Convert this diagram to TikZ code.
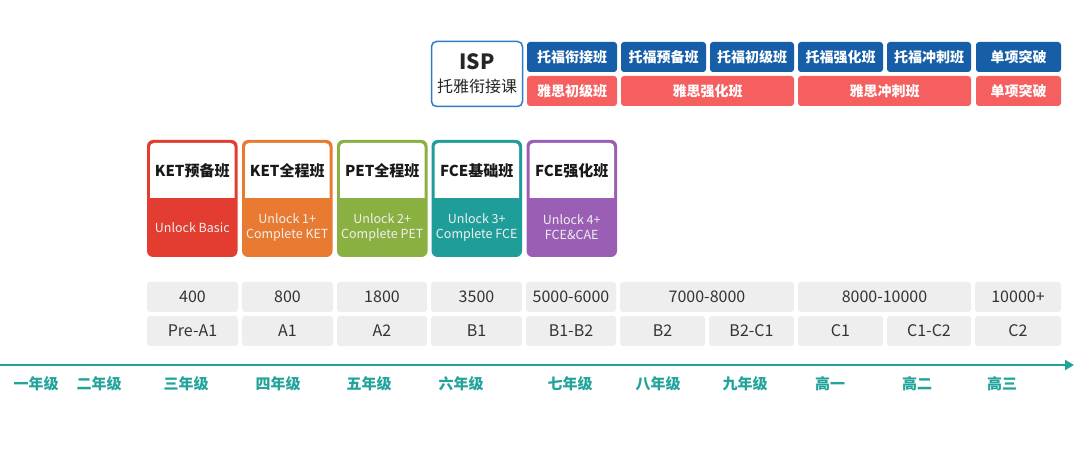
\documentclass[tikz,border=0pt]{standalone}
\usepackage{fontspec}
\setmainfont{Noto Sans CJK SC}
\usetikzlibrary{arrows.meta}
\definecolor{toeflblue}{HTML}{165EA8}
\definecolor{ispblue}{HTML}{2F7CC6}
\definecolor{ieltsred}{HTML}{F65F5F}
\definecolor{ketred}{HTML}{E23D30}
\definecolor{ketorange}{HTML}{E97A31}
\definecolor{petgreen}{HTML}{8AB042}
\definecolor{fceteal}{HTML}{1F9E99}
\definecolor{fcepurple}{HTML}{9A5EB5}
\definecolor{scoregray}{HTML}{EEEEEE}
\definecolor{txtgray}{HTML}{333333}
\definecolor{axisteal}{HTML}{22A39B}

\begin{document}
\begin{tikzpicture}[x=1pt,y=-1pt,
    every node/.style={inner sep=0pt,outer sep=0pt},
    toefl/.style={anchor=north west,fill=toeflblue,rounded corners=3pt,text=white,
      minimum height=30pt,font=\bfseries\fontsize{14}{16}\selectfont},
    ielts/.style={toefl,fill=ieltsred},
    score/.style={anchor=north west,fill=scoregray,rounded corners=3pt,text=txtgray,
      minimum height=30pt,font=\fontsize{16}{18}\selectfont},
    card/.style={anchor=north west,fill=#1,rounded corners=6pt,minimum width=90.5pt,minimum height=117pt},
    cardtitle/.style={text=black!90,font=\bfseries\fontsize{15}{18}\selectfont},
    cardsub/.style={text=white!94!black,align=center,font=\fontsize{12.5}{15}\selectfont},
    grade/.style={text=axisteal,font=\bfseries\fontsize{15}{18}\selectfont}]
  \useasboundingbox[fill=white] (0,0) rectangle (1080,449);

  % ISP and the toefl / ielts rows
  \node[anchor=north west,draw=ispblue,line width=1.5pt,rounded corners=5pt,
    minimum width=91pt,minimum height=65pt] (isp) at (431.5,41.5) {};
  \node[font=\bfseries\fontsize{21}{24}\selectfont,text=black!85] (isptitle) at (477,62) {ISP};
  \node[font=\fontsize{16}{18}\selectfont,text=black!85] (ispsub) at (477,86) {托雅衔接课};

  \node[toefl,minimum width=90pt] (t1) at (527,42) {托福衔接班};
  \node[toefl,minimum width=85pt] (t2) at (621,42) {托福预备班};
  \node[toefl,minimum width=84pt] (t3) at (710,42) {托福初级班};
  \node[toefl,minimum width=85pt] (t4) at (798,42) {托福强化班};
  \node[toefl,minimum width=84pt] (t5) at (887,42) {托福冲刺班};
  \node[toefl,minimum width=85pt] (t6) at (976,42) {单项突破};

  \node[ielts,minimum width=90pt] (i1) at (527,76) {雅思初级班};
  \node[ielts,minimum width=173pt] (i2) at (621,76) {雅思强化班};
  \node[ielts,minimum width=173pt] (i3) at (798,76) {雅思冲刺班};
  \node[ielts,minimum width=85pt] (i4) at (976,76) {单项突破};

  % cambridge cards
  \foreach \x/\c/\t/\s [count=\i] in {147/ketred/KET预备班/Unlock Basic,
      242/ketorange/KET全程班/{Unlock 1+\\Complete KET},
      337/petgreen/PET全程班/{Unlock 2+\\Complete PET},
      431.5/fceteal/FCE基础班/{Unlock 3+\\Complete FCE},
      526.5/fcepurple/FCE强化班/{Unlock 4+\\FCE\&CAE}}{
    \node[card=\c] (card\i) at (\x,140) {};
    \fill[white] (\x+3,198) [rounded corners=4pt] -- (\x+3,143) -- (\x+87.5,143)
      [sharp corners] -- (\x+87.5,198) -- cycle;
    \node[cardtitle] (title\i) at (\x+45.25,170.5) {\t};
    \node[cardsub] (sub\i) at (\x+45.25,227.5) {\s};
  }

  % vocabulary and CEFR levels
  \node[score,minimum width=91pt] (v1) at (147,282) {400};
  \node[score,minimum width=91pt] (v2) at (242,282) {800};
  \node[score,minimum width=90pt] (v3) at (337,282) {1800};
  \node[score,minimum width=91pt] (v4) at (431,282) {3500};
  \node[score,minimum width=90pt] (v5) at (526,282) {5000-6000};
  \node[score,minimum width=174pt] (v6) at (620,282) {7000-8000};
  \node[score,minimum width=173pt] (v7) at (798,282) {8000-10000};
  \node[score,minimum width=86pt] (v8) at (975,282) {10000+};

  \node[score,minimum width=91pt] (l1) at (147,316) {Pre-A1};
  \node[score,minimum width=91pt] (l2) at (242,316) {A1};
  \node[score,minimum width=90pt] (l3) at (337,316) {A2};
  \node[score,minimum width=91pt] (l4) at (431,316) {B1};
  \node[score,minimum width=90pt] (l5) at (526,316) {B1-B2};
  \node[score,minimum width=85pt] (l6) at (620,316) {B2};
  \node[score,minimum width=85pt] (l7) at (709,316) {B2-C1};
  \node[score,minimum width=85pt] (l8) at (798,316) {C1};
  \node[score,minimum width=84pt] (l9) at (887,316) {C1-C2};
  \node[score,minimum width=86pt] (l10) at (975,316) {C2};

  % time line
  \coordinate (start) at (0,365);
  \coordinate (end) at (1074,365);
  \draw[axisteal,line width=2.6pt,-{Triangle[length=9pt,width=10pt]}] (start) -- (end);
  \foreach \x/\g [count=\i] in {36/一年级,99/二年级,186/三年级,278/四年级,369/五年级,
      461/六年级,570/七年级,658/八年级,745/九年级,830/高一,917/高二,1002/高三}
    \node[grade] (g\i) at (\x,384) {\g};
\end{tikzpicture}
\end{document}
